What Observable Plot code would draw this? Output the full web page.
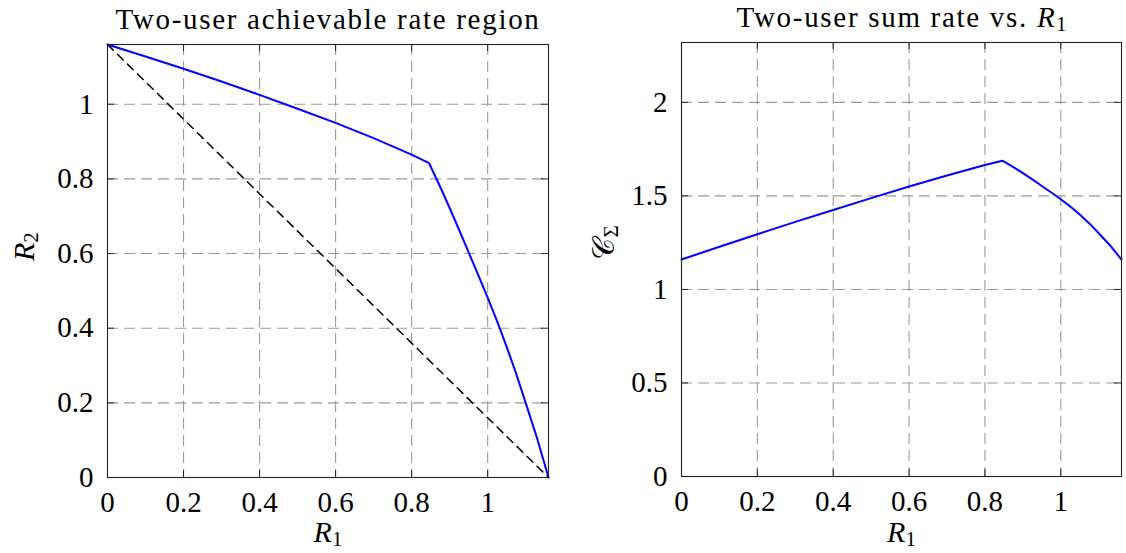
<!DOCTYPE html>
<html>
<head>
<meta charset="utf-8">
<script src="https://cdn.jsdelivr.net/npm/d3@7"></script>
<script src="https://cdn.jsdelivr.net/npm/@observablehq/plot@0.6"></script>
<style>
  body { margin: 0; background: #fff; }
  #wrap { position: relative; width: 1126px; height: 553px; overflow: hidden; }
  #wrap svg { position: absolute; top: 0; }
</style>
</head>
<body>
<div id="wrap"></div>
<script>
// Rate of user 1 (shared x values of both panels)
const r1 = [0, 0.1, 0.2, 0.3, 0.4, 0.5, 0.6, 0.7, 0.8, 0.846, 0.875, 0.9, 0.925, 0.95, 0.975, 1.0, 1.025, 1.05, 1.075, 1.1, 1.13, 1.16];
// Largest achievable rate of user 2 for each R1
const r2 = [1.16, 1.128, 1.095, 1.061, 1.025, 0.988, 0.950, 0.909, 0.865, 0.842, 0.779, 0.722, 0.663, 0.603, 0.543, 0.482, 0.418, 0.35, 0.278, 0.2, 0.105, 0];
// Sum rate R1 + R2 along the boundary
const sumRate = [1.16, 1.228, 1.295, 1.361, 1.425, 1.488, 1.55, 1.609, 1.665, 1.688, 1.654, 1.622, 1.588, 1.553, 1.518, 1.482, 1.443, 1.40, 1.353, 1.30, 1.235, 1.16];

const rateMax = 1.16;
const sumMax = 2.32;
const xTicks = [0, 0.2, 0.4, 0.6, 0.8, 1];
const yTicksRegion = [0, 0.2, 0.4, 0.6, 0.8, 1];
const yTicksSum = [0, 0.5, 1, 1.5, 2];

const titleRegion = "Two-user achievable rate region";
const titleSum = "Two-user sum rate vs. R_1";
const xLabel = "R_1";
const yLabelRegion = "R_2";
const yLabelSum = "𝒞_Σ";

const region = r1.map((x, i) => ({r1: x, r2: r2[i]}));
const sums = r1.map((x, i) => ({r1: x, sum: sumRate[i]}));

const FONT = "'Liberation Serif', 'DejaVu Serif', serif";
const gridStyle = {stroke: "#9a9a9a", strokeOpacity: 1, strokeWidth: 1.1, strokeDasharray: "11,6"};
const TICK = 7;
const fmt = d => String(d);

function panel({width, marginLeft, marginRight, marginTop, marginBottom, yMax, yTicks, title, yLabel, yLabelDx, xLabelDy, marks}) {
  const H = 553 - marginTop - marginBottom;
  const W = width - marginLeft - marginRight;
  return Plot.plot({
    width, height: 553, marginLeft, marginRight, marginTop, marginBottom,
    style: {fontFamily: FONT, fontSize: "29px", color: "#000", background: "transparent"},
    x: {domain: [0, rateMax]},
    y: {domain: [0, yMax]},
    marks: [
      Plot.gridX(xTicks.filter(d => d > 0), gridStyle),
      Plot.gridY(yTicks.filter(d => d > 0), gridStyle),
      // inward tick marks on all four sides
      Plot.ruleX(xTicks, {x: d => d, insetTop: H - TICK, stroke: "#222"}),
      Plot.ruleX(xTicks, {x: d => d, insetBottom: H - TICK, stroke: "#222"}),
      Plot.ruleY(yTicks, {y: d => d, insetRight: W - TICK, stroke: "#222"}),
      Plot.ruleY(yTicks, {y: d => d, insetLeft: W - TICK, stroke: "#222"}),
      Plot.axisX(xTicks, {tickSize: 0, tickPadding: 14, label: null, fontSize: 29, tickFormat: fmt}),
      Plot.axisY(yTicks, {tickSize: 0, tickPadding: 14, label: null, fontSize: 29, tickFormat: fmt}),
      ...marks,
      Plot.frame({stroke: "#222", strokeWidth: 1.1}),
      Plot.text([title], {frameAnchor: "top", dy: -16, lineAnchor: "bottom", fontSize: 29, fill: "#000", className: "title"}),
      Plot.text([xLabel], {frameAnchor: "bottom", dy: xLabelDy, lineAnchor: "bottom", fontSize: 30, fill: "#000"}),
      Plot.text([yLabel], {frameAnchor: "left", dx: yLabelDx, rotate: -90, lineAnchor: "bottom", fontSize: 30, fill: "#000"})
    ]
  });
}

const left = panel({
  width: 560, marginLeft: 107, marginRight: 12, marginTop: 44, marginBottom: 76,
  yMax: rateMax, yTicks: yTicksRegion, title: titleRegion, yLabel: yLabelRegion, yLabelDx: -74, xLabelDy: 64,
  marks: [
    Plot.line([region[0], region[region.length - 1]], {x: "r1", y: "r2", stroke: "#000", strokeWidth: 1.5, strokeDasharray: "8,6"}),
    Plot.line(region, {x: "r1", y: "r2", stroke: "#0000ff", strokeWidth: 2})
  ]
});

const right = panel({
  width: 560, marginLeft: 115, marginRight: 5, marginTop: 42, marginBottom: 77,
  yMax: sumMax, yTicks: yTicksSum, title: titleSum, yLabel: yLabelSum, yLabelDx: -68, xLabelDy: 65,
  marks: [
    Plot.line(sums, {x: "r1", y: "sum", stroke: "#0000ff", strokeWidth: 2})
  ]
});

// Typeset "X_s" strings as italic symbol with a subscript; widen title spacing
function typeset(svg) {
  d3.select(svg).selectAll("g.title text").attr("letter-spacing", "1.7px");
  d3.select(svg).selectAll("text").each(function () {
    const s = this.textContent;
    const m = s.match(/^(.*?)(\S+)_(\S+)$/u);
    if (!m) return;
    const [, prefix, base, sub] = m;
    const el = d3.select(this);
    el.text(null);
    if (prefix) el.append("tspan").text(prefix);
    el.append("tspan").attr("font-style", base === "𝒞" ? "normal" : "italic").text(base);
    el.append("tspan").attr("font-size", "0.7em").attr("dy", "0.22em").attr("letter-spacing", "0").text(sub);
  });
}
typeset(left);
typeset(right);

left.style.left = "0px";
right.style.left = "566px";
document.getElementById("wrap").append(left, right);
</script>
</body>
</html>
